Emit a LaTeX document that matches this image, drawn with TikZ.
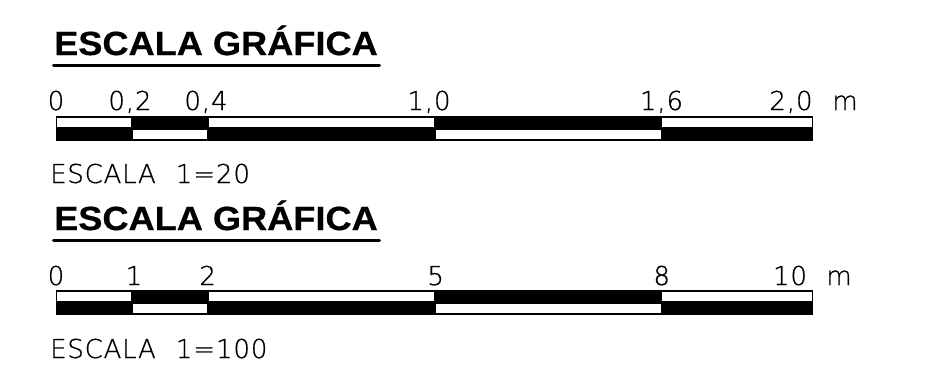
\documentclass[tikz,border=0pt]{standalone}
\usepackage{fontspec}
\newfontfamily\titlefont[FakeStretch=1.08,FakeBold=0.5]{Liberation Sans}
\newfontfamily\thinfont[LetterSpace=3,FakeBold=0.7]{DejaVu Sans ExtraLight}
\newfontfamily\thindigits[LetterSpace=3.5,FakeBold=0.7]{DejaVu Sans ExtraLight}
\tikzset{
  x=1pt,y=-1pt,
  titletext/.style={anchor=base west,inner sep=0pt,font=\titlefont\bfseries\fontsize{33.5}{33.5}\selectfont},
  ticktext/.style={anchor=base,inner sep=0pt,font=\thindigits\fontsize{26}{26}\selectfont},
  scaletext/.style={anchor=base west,inner sep=0pt,font=\thinfont\fontsize{26}{26}\selectfont},
  cell/.style={fill=white,draw=none},
  rule/.style={line width=3pt,line cap=round}
}
\newcommand{\barscale}[1]{%
  \begin{scope}[yshift=#1]
    \fill[black] (56,116) rectangle (813.3,140.6);
    \fill[cell] (57.4,118.2) rectangle (131,127.3);
    \fill[cell] (209,118.2) rectangle (433.7,127.3);
    \fill[cell] (662.3,118.2) rectangle (811.8,127.3);
    \fill[cell] (133.3,129.6) rectangle (206.7,139.2);
    \fill[cell] (435.7,129.6) rectangle (660.7,139.2);
  \end{scope}}
\begin{document}
\begin{tikzpicture}
\useasboundingbox (0,0) rectangle (931,384);
\fill[white] (0,0) rectangle (931,384);
% first
\node[titletext] (t1) at (54,55) {ESCALA GRÁFICA};
\coordinate (u1a) at (53.5,65.7); \coordinate (u1b) at (379.5,65.7);
\draw[rule] (u1a) -- (u1b);
\barscale{0pt}
\node[ticktext] (a0) at (56,110) {0};
\node[ticktext] (a1) at (130,110) {0,2};
\node[ticktext] (a2) at (206,110) {0,4};
\node[ticktext] (a3) at (429,110) {1,0};
\node[ticktext] (a4) at (661.5,110) {1,6};
\node[ticktext] (a5) at (791,110) {2,0};
\node[ticktext] (a6) at (845,110) {m};
\node[scaletext] (s1) at (50,183) {ESCALA\hspace{20pt}{\thindigits 1=20}};
% second
\node[titletext] (t2) at (54,230) {ESCALA GRÁFICA};
\coordinate (u2a) at (53.5,240); \coordinate (u2b) at (379.5,240);
\draw[rule] (u2a) -- (u2b);
\barscale{-174pt}
\node[ticktext] (b0) at (56,285) {0};
\node[ticktext] (b1) at (134,285) {1};
\node[ticktext] (b2) at (207.7,285) {2};
\node[ticktext] (b3) at (435.7,285) {5};
\node[ticktext] (b4) at (661.7,285) {8};
\node[ticktext] (b5) at (790,285) {10};
\node[ticktext] (b6) at (839,285) {m};
\node[scaletext] (s2) at (50,358) {ESCALA\hspace{20pt}{\thindigits 1=100}};
\end{tikzpicture}
\end{document}
